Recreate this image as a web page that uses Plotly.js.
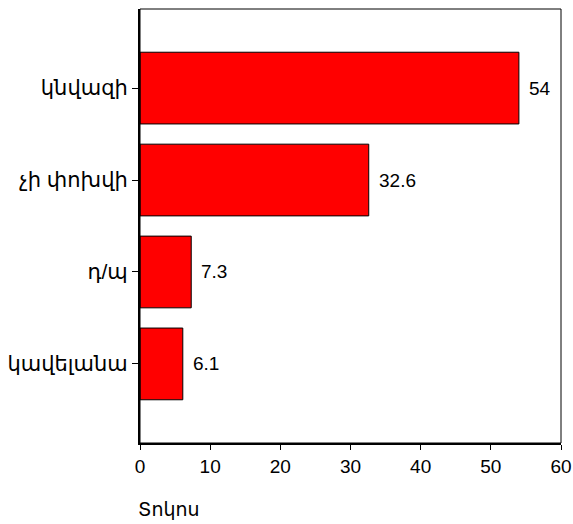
<!DOCTYPE html>
<html>
<head>
<meta charset="utf-8">
<script src="https://cdn.plot.ly/plotly-3.0.1.min.js"></script>
<style>html,body{margin:0;padding:0;background:#fff;}#chart{width:573px;height:524px;}</style>
</head>
<body>
<div id="chart"></div>
<script>
var categories = ["կնվազի", "չի փոխվի", "դ/պ", "կավելանա"];
var values = [54, 32.6, 7.3, 6.1];
var valueLabels = ["54", "32.6", "7.3", "6.1"];
var xTicks = [0, 10, 20, 30, 40, 50, 60];
var axisTitle = "Տոկոս";

var font = "Arial, 'Liberation Sans', 'DejaVu Sans', sans-serif";

var trace = {
  type: "bar",
  orientation: "h",
  x: values,
  y: categories,
  marker: {color: "#ff0000", line: {color: "#000000", width: 1}},
  hoverinfo: "none"
};

var annotations = categories.map(function(c, i) {
  return {x: values[i], y: c, xref: "x", yref: "y", text: valueLabels[i],
    showarrow: false, xanchor: "left", xshift: 8,
    font: {family: font, size: 19, color: "#000"}};
});
annotations.push({x: 0, y: -0.154, xref: "paper", yref: "paper", text: axisTitle,
  showarrow: false, xanchor: "left", yanchor: "middle", xshift: -4,
  font: {family: font, size: 19, color: "#000"}});

var layout = {
  width: 573, height: 524,
  margin: {l: 140, r: 12, t: 9, b: 81},
  paper_bgcolor: "#fff", plot_bgcolor: "#fff",
  showlegend: false,
  bargap: 0.22,
  font: {family: font, size: 19, color: "#000"},
  xaxis: {range: [0, 60], tickvals: xTicks, ticks: "outside", ticklen: 5, tickwidth: 1,
    tickcolor: "#000", showgrid: false, zeroline: false, showline: true, linewidth: 2,
    linecolor: "#000", tickfont: {family: font, size: 19}, fixedrange: true},
  yaxis: {type: "category", categoryorder: "array", categoryarray: categories.slice().reverse(),
    range: [-0.86, 3.86], ticks: "outside", ticklen: 6, tickwidth: 1, tickcolor: "#000",
    showgrid: false, zeroline: false, showline: true, linewidth: 2, linecolor: "#000",
    tickfont: {family: font, size: 21}, fixedrange: true},
  shapes: [{type: "rect", xref: "paper", yref: "paper", x0: 0, x1: 1, y0: 0, y1: 1,
    line: {color: "#000", width: 1}}],
  annotations: annotations
};

Plotly.newPlot("chart", [trace], layout, {displayModeBar: false, staticPlot: true});
</script>
</body>
</html>
